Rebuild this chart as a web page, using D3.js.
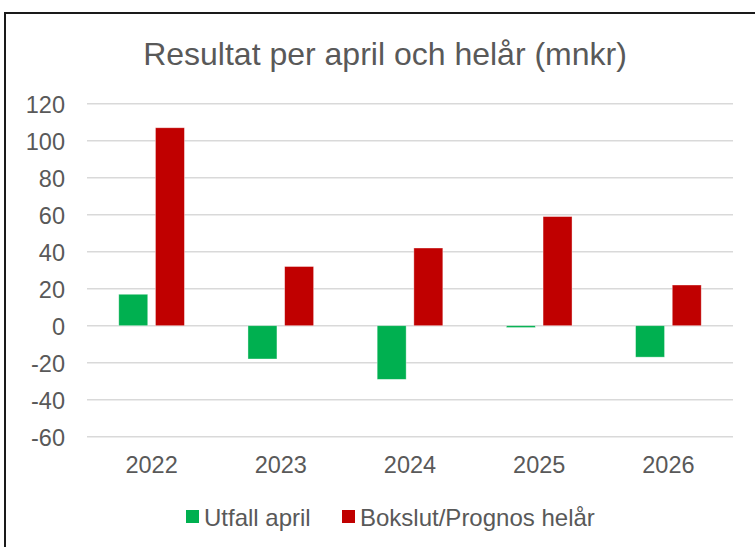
<!DOCTYPE html>
<html>
<head>
<meta charset="utf-8">
<script src="https://cdn.jsdelivr.net/npm/d3@7"></script>
<style>
  body { margin: 0; background: #fff; }
  text { font-family: "Liberation Sans", Arial, sans-serif; fill: #595959; }
</style>
</head>
<body>
<div id="chart"></div>
<script>
// Chart data
let years = ["2022", "2023", "2024", "2025", "2026"];
let seriesNames = ["Utfall april", "Bokslut/Prognos helår"];
let utfallApril = [17, -18, -29, -1, -17];
let prognosHelar = [107, 32, 42, 59, 22];
let yTicks = [-60, -40, -20, 0, 20, 40, 60, 80, 100, 120];
let colors = ["#00B050", "#C00000"];

let svgWidth = 755;
let svgHeight = 547;

// Plot area
let margin = { top: 103.7, left: 87, right: 22, bottom: 110.3 };
let width = svgWidth - margin.left - margin.right;
let height = svgHeight - margin.top - margin.bottom;

let svg = d3.select("#chart")
  .append("svg")
  .attr("width", svgWidth)
  .attr("height", svgHeight);

// Outer chart border (runs off the right and bottom edges)
svg.append("rect")
  .attr("x", 5)
  .attr("y", 13)
  .attr("width", 780)
  .attr("height", 560)
  .attr("fill", "none")
  .attr("stroke", "#1a1a1a")
  .attr("stroke-width", 2);

// Title
svg.append("text")
  .attr("x", 385)
  .attr("y", 65)
  .attr("text-anchor", "middle")
  .attr("font-size", "32px")
  .text("Resultat per april och helår (mnkr)");

let chartGroup = svg.append("g")
  .attr("transform", `translate(${margin.left}, ${margin.top})`);

// Scales
let xScale = d3.scaleBand().domain(years).range([0, width]);
let xSub = d3.scaleBand()
  .domain(seriesNames)
  .range([0, xScale.bandwidth()])
  .paddingInner(0.21)
  .paddingOuter(0.866);
let yScale = d3.scaleLinear().domain([-60, 120]).range([height, 0]);

// Gridlines
chartGroup.append("g")
  .selectAll("line")
  .data(yTicks)
  .enter()
  .append("line")
  .attr("x1", 0)
  .attr("x2", width)
  .attr("y1", (d) => yScale(d))
  .attr("y2", (d) => yScale(d))
  .attr("stroke", "#d9d9d9")
  .attr("stroke-width", 1.4);

// Y-axis labels (plain hyphen for negatives, like the original)
let leftAxis = d3.axisLeft(yScale)
  .tickValues(yTicks)
  .tickFormat((d) => String(d))
  .tickSize(0)
  .tickPadding(22);
let yAxis = chartGroup.append("g").call(leftAxis);
yAxis.select(".domain").remove();
yAxis.selectAll("text")
  .attr("font-size", "23.5px")
  .attr("font-family", null)
  .attr("fill", "#595959")
  .attr("dy", "0.36em");

// X-axis labels
let bottomAxis = d3.axisBottom(xScale).tickSize(0).tickPadding(0);
let xAxis = chartGroup.append("g")
  .attr("transform", `translate(0, ${height})`)
  .call(bottomAxis);
xAxis.select(".domain").remove();
xAxis.selectAll("text")
  .attr("font-size", "23.5px")
  .attr("font-family", null)
  .attr("fill", "#595959")
  .attr("dy", null)
  .attr("y", 36.8);

// Bars
let barData = [];
years.forEach(function (year, i) {
  barData.push({ year: year, series: seriesNames[0], value: utfallApril[i], color: colors[0] });
  barData.push({ year: year, series: seriesNames[1], value: prognosHelar[i], color: colors[1] });
});

chartGroup.append("g")
  .selectAll("rect")
  .data(barData)
  .enter()
  .append("rect")
  .attr("x", (d) => xScale(d.year) + xSub(d.series))
  .attr("y", (d) => yScale(Math.max(0, d.value)))
  .attr("width", xSub.bandwidth())
  .attr("height", (d) => Math.abs(yScale(d.value) - yScale(0)))
  .attr("fill", (d) => d.color)
  .attr("stroke", "#fff")
  .attr("stroke-opacity", 0.5)
  .attr("stroke-width", 0.75);

// Legend
let legendItems = [
  { name: seriesNames[0], color: colors[0], x: 186 },
  { name: seriesNames[1], color: colors[1], x: 342 },
];
let legend = svg.append("g");
legendItems.forEach(function (item) {
  legend.append("rect")
    .attr("x", item.x)
    .attr("y", 510)
    .attr("width", 13)
    .attr("height", 13)
    .attr("fill", item.color);
  legend.append("text")
    .attr("x", item.x + 18)
    .attr("y", 525.5)
    .attr("font-size", "24px")
    .text(item.name);
});
</script>
</body>
</html>
